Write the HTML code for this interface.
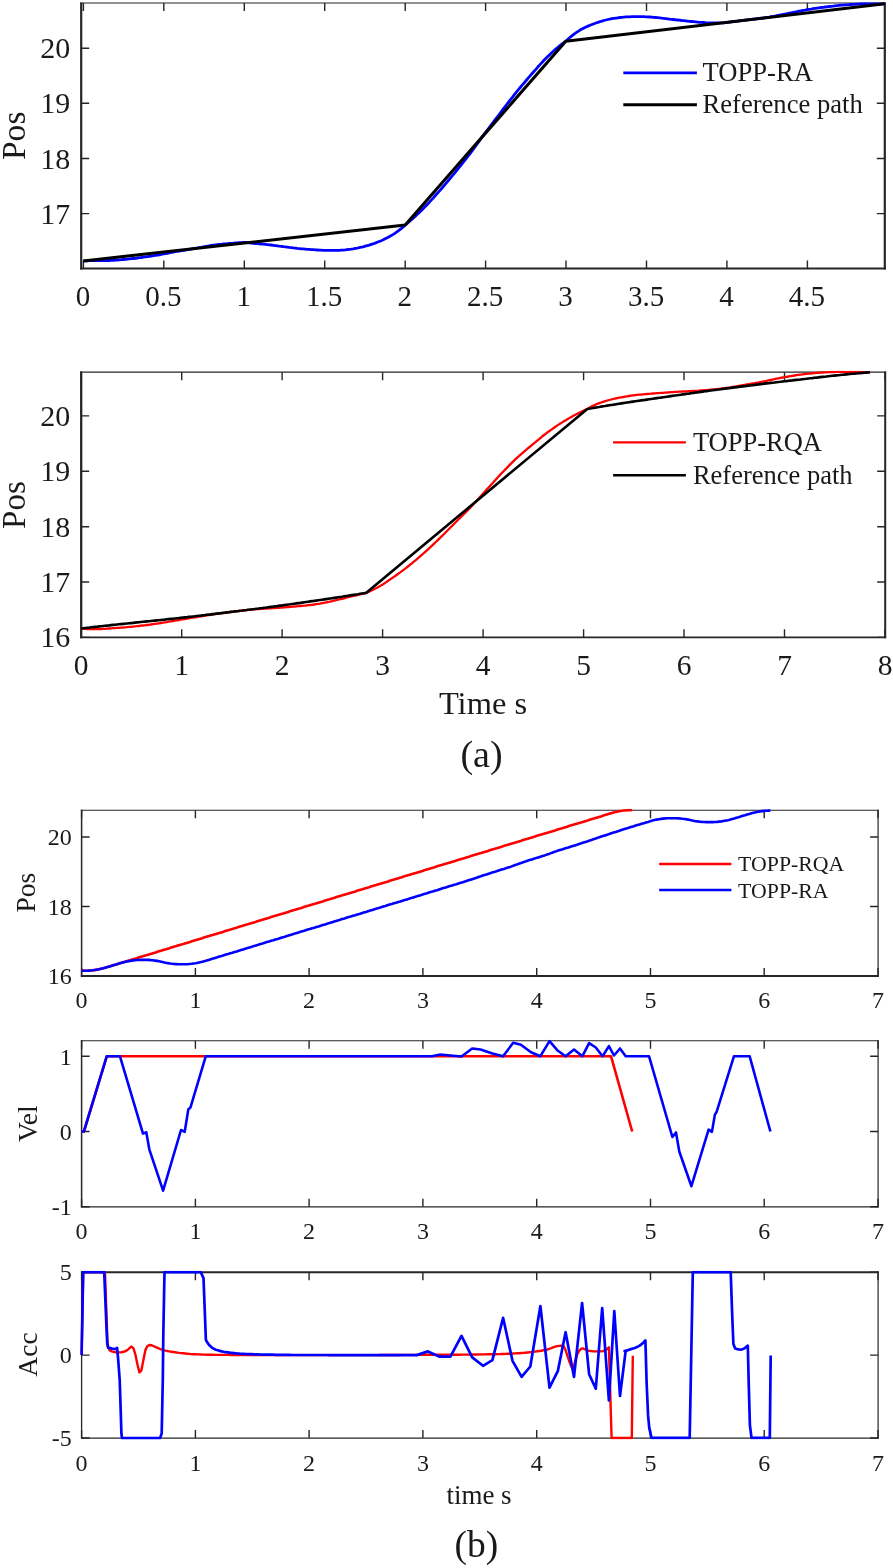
<!DOCTYPE html>
<html><head><meta charset="utf-8"><title>Figure</title>
<style>
html,body{margin:0;padding:0;background:#fff;}
body{width:893px;height:1568px;overflow:hidden;}
svg{display:block;will-change:transform;transform:translateZ(0);}
text{font-family:"Liberation Serif",serif;fill:#1a1a1a;}
</style></head><body>
<svg width="893" height="1568" viewBox="0 0 893 1568">
<rect width="893" height="1568" fill="#ffffff"/>
<clipPath id="c1"><rect x="79.7" y="1.5" width="806.5999999999999" height="268.5"/></clipPath>
<path d="M83.4,268.5 v-8 M83.4,3.0 v8" stroke="#262626" stroke-width="1.4" fill="none"/>
<path d="M163.8,268.5 v-8 M163.8,3.0 v8" stroke="#262626" stroke-width="1.4" fill="none"/>
<path d="M244.3,268.5 v-8 M244.3,3.0 v8" stroke="#262626" stroke-width="1.4" fill="none"/>
<path d="M324.7,268.5 v-8 M324.7,3.0 v8" stroke="#262626" stroke-width="1.4" fill="none"/>
<path d="M405.2,268.5 v-8 M405.2,3.0 v8" stroke="#262626" stroke-width="1.4" fill="none"/>
<path d="M485.6,268.5 v-8 M485.6,3.0 v8" stroke="#262626" stroke-width="1.4" fill="none"/>
<path d="M566.0,268.5 v-8 M566.0,3.0 v8" stroke="#262626" stroke-width="1.4" fill="none"/>
<path d="M646.5,268.5 v-8 M646.5,3.0 v8" stroke="#262626" stroke-width="1.4" fill="none"/>
<path d="M726.9,268.5 v-8 M726.9,3.0 v8" stroke="#262626" stroke-width="1.4" fill="none"/>
<path d="M807.4,268.5 v-8 M807.4,3.0 v8" stroke="#262626" stroke-width="1.4" fill="none"/>
<path d="M81.2,213.6 h8 M884.8,213.6 h-8" stroke="#262626" stroke-width="1.4" fill="none"/>
<path d="M81.2,158.5 h8 M884.8,158.5 h-8" stroke="#262626" stroke-width="1.4" fill="none"/>
<path d="M81.2,103.3 h8 M884.8,103.3 h-8" stroke="#262626" stroke-width="1.4" fill="none"/>
<path d="M81.2,48.2 h8 M884.8,48.2 h-8" stroke="#262626" stroke-width="1.4" fill="none"/>
<line x1="81.2" y1="2.4" x2="81.2" y2="269.55" stroke="#262626" stroke-width="2.2"/>
<line x1="80.10000000000001" y1="268.5" x2="885.9" y2="268.5" stroke="#262626" stroke-width="2.1"/>
<line x1="80.10000000000001" y1="3.0" x2="885.9" y2="3.0" stroke="#262626" stroke-width="1.2"/>
<line x1="884.8" y1="2.4" x2="884.8" y2="269.55" stroke="#262626" stroke-width="2.2"/>
<g clip-path="url(#c1)">
<path d="M83.4,260.9 L85.4,260.8 L87.4,260.8 L89.4,260.7 L91.4,260.7 L93.4,260.6 L95.4,260.6 L97.4,260.6 L99.4,260.6 L101.4,260.6 L103.4,260.5 L105.4,260.5 L107.4,260.5 L109.4,260.5 L111.4,260.4 L113.4,260.3 L115.4,260.2 L117.4,260.0 L119.4,259.9 L121.4,259.7 L123.4,259.5 L125.4,259.3 L127.4,259.1 L129.4,258.9 L131.4,258.7 L133.4,258.5 L135.4,258.3 L137.4,258.0 L139.4,257.7 L141.4,257.5 L143.4,257.2 L145.4,256.9 L147.4,256.6 L149.4,256.3 L151.4,256.0 L153.4,255.7 L155.4,255.4 L157.4,255.1 L159.4,254.8 L161.4,254.4 L163.4,254.0 L165.3,253.6 L167.3,253.3 L169.3,252.9 L171.3,252.5 L173.3,252.1 L175.3,251.7 L177.3,251.4 L179.3,251.1 L181.3,250.7 L183.3,250.4 L185.3,250.1 L187.3,249.7 L189.3,249.4 L191.3,249.0 L193.3,248.7 L195.3,248.4 L197.3,248.0 L199.3,247.6 L201.3,247.3 L203.3,246.9 L205.3,246.5 L207.3,246.2 L209.3,245.8 L211.3,245.5 L213.3,245.2 L215.3,245.0 L217.3,244.7 L219.3,244.5 L221.3,244.3 L223.3,244.0 L225.3,243.8 L227.3,243.7 L229.3,243.5 L231.3,243.3 L233.3,243.2 L235.3,243.0 L237.3,242.9 L239.3,242.7 L241.3,242.6 L243.3,242.5 L245.3,242.5 L247.3,242.7 L249.3,242.9 L251.3,243.2 L253.3,243.4 L255.3,243.5 L257.3,243.7 L259.3,243.8 L261.3,244.0 L263.3,244.2 L265.3,244.4 L267.3,244.6 L269.3,244.8 L271.3,245.0 L273.3,245.3 L275.3,245.6 L277.3,245.9 L279.3,246.2 L281.3,246.4 L283.3,246.7 L285.3,246.9 L287.3,247.1 L289.3,247.4 L291.3,247.6 L293.3,247.9 L295.3,248.1 L297.3,248.4 L299.3,248.6 L301.3,248.8 L303.3,248.9 L305.3,249.1 L307.3,249.3 L309.3,249.4 L311.3,249.6 L313.3,249.7 L315.3,249.9 L317.3,250.0 L319.3,250.1 L321.3,250.2 L323.3,250.3 L325.2,250.3 L327.2,250.4 L329.2,250.4 L331.2,250.4 L333.2,250.4 L335.2,250.4 L337.2,250.3 L339.2,250.3 L341.2,250.2 L343.2,250.1 L345.2,249.9 L347.2,249.6 L349.2,249.3 L351.2,249.1 L353.2,248.8 L355.2,248.4 L357.2,248.1 L359.2,247.7 L361.2,247.2 L363.2,246.8 L365.2,246.2 L367.2,245.7 L369.2,245.1 L371.2,244.4 L373.2,243.8 L375.2,243.1 L377.2,242.3 L379.2,241.5 L381.2,240.7 L383.2,239.8 L385.2,238.8 L387.2,237.8 L389.2,236.7 L391.2,235.6 L393.2,234.4 L395.2,233.1 L397.2,231.7 L399.2,230.2 L401.2,228.6 L403.2,226.9 L405.2,225.1 L407.2,223.4 L409.2,221.7 L411.1,220.0 L413.1,218.2 L415.1,216.4 L417.1,214.5 L419.1,212.7 L421.1,210.8 L423.0,208.8 L425.0,206.8 L427.0,204.7 L429.0,202.6 L431.0,200.4 L433.0,198.3 L434.9,196.0 L436.9,193.8 L438.9,191.6 L440.9,189.3 L442.9,187.0 L444.9,184.7 L446.8,182.4 L448.8,180.0 L450.8,177.6 L452.8,175.2 L454.8,172.8 L456.8,170.3 L458.7,167.9 L460.7,165.5 L462.7,163.0 L464.7,160.5 L466.7,158.0 L468.6,155.4 L470.6,152.8 L472.6,150.1 L474.6,147.4 L476.6,144.7 L478.6,141.9 L480.5,139.2 L482.5,136.4 L484.5,133.8 L486.5,131.1 L488.5,128.5 L490.5,125.9 L492.4,123.3 L494.4,120.7 L496.4,118.1 L498.4,115.5 L500.4,112.9 L502.4,110.2 L504.3,107.6 L506.3,105.0 L508.3,102.4 L510.3,99.8 L512.3,97.3 L514.2,94.8 L516.2,92.3 L518.2,89.9 L520.2,87.5 L522.2,85.2 L524.2,82.8 L526.1,80.5 L528.1,78.1 L530.1,75.8 L532.1,73.5 L534.1,71.3 L536.1,69.1 L538.0,66.8 L540.0,64.6 L542.0,62.5 L544.0,60.3 L546.0,58.3 L548.0,56.3 L549.9,54.4 L551.9,52.5 L553.9,50.7 L555.9,48.9 L557.9,47.3 L559.9,45.6 L561.8,44.1 L563.8,42.6 L566.1,40.9 L568.1,39.0 L570.1,37.3 L572.1,35.7 L574.1,34.1 L576.1,32.7 L578.1,31.4 L580.0,30.1 L582.0,29.0 L584.0,28.0 L586.0,27.0 L588.0,26.1 L590.0,25.3 L592.0,24.5 L594.0,23.7 L596.0,23.0 L598.0,22.3 L600.0,21.7 L602.0,21.1 L603.9,20.5 L605.9,20.0 L607.9,19.5 L609.9,19.1 L611.9,18.7 L613.9,18.4 L615.9,18.1 L617.9,17.8 L619.9,17.5 L621.9,17.3 L623.9,17.1 L625.9,16.9 L627.8,16.8 L629.8,16.8 L631.8,16.7 L633.8,16.6 L635.8,16.6 L637.8,16.6 L639.8,16.6 L641.8,16.7 L643.8,16.7 L645.8,16.8 L647.8,16.9 L649.8,17.0 L651.8,17.2 L653.7,17.4 L655.7,17.5 L657.7,17.7 L659.7,17.9 L661.7,18.2 L663.7,18.4 L665.7,18.6 L667.7,18.8 L669.7,19.1 L671.7,19.3 L673.7,19.5 L675.7,19.8 L677.6,20.0 L679.6,20.2 L681.6,20.5 L683.6,20.7 L685.6,20.9 L687.6,21.1 L689.6,21.3 L691.6,21.5 L693.6,21.7 L695.6,21.9 L697.6,22.1 L699.6,22.3 L701.5,22.4 L703.5,22.5 L705.5,22.7 L707.5,22.8 L709.5,22.8 L711.5,22.9 L713.5,22.9 L715.5,22.9 L717.5,22.9 L719.5,22.9 L721.5,22.9 L723.5,22.8 L725.5,22.7 L727.4,22.4 L729.4,22.1 L731.4,21.8 L733.4,21.5 L735.4,21.3 L737.4,21.1 L739.4,20.8 L741.4,20.6 L743.4,20.4 L745.4,20.1 L747.4,19.9 L749.4,19.7 L751.3,19.5 L753.3,19.2 L755.3,19.0 L757.3,18.7 L759.3,18.5 L761.3,18.2 L763.3,18.0 L765.3,17.7 L767.3,17.4 L769.3,17.1 L771.3,16.7 L773.3,16.4 L775.2,16.0 L777.2,15.6 L779.2,15.2 L781.2,14.8 L783.2,14.4 L785.2,14.0 L787.2,13.6 L789.2,13.2 L791.2,12.8 L793.2,12.4 L795.2,12.0 L797.2,11.6 L799.1,11.2 L801.1,10.8 L803.1,10.4 L805.1,10.1 L807.1,9.7 L809.1,9.4 L811.1,9.1 L813.1,8.7 L815.1,8.4 L817.1,8.1 L819.1,7.8 L821.1,7.5 L823.1,7.3 L825.0,7.0 L827.0,6.8 L829.0,6.5 L831.0,6.3 L833.0,6.1 L835.0,5.8 L837.0,5.6 L839.0,5.4 L841.0,5.2 L843.0,5.1 L845.0,4.9 L847.0,4.8 L848.9,4.7 L850.9,4.5 L852.9,4.4 L854.9,4.3 L856.9,4.2 L858.9,4.1 L860.9,4.0 L862.9,3.9 L864.9,3.9 L866.9,3.9 L868.9,3.9 L870.9,3.8 L872.8,3.8 L874.8,3.8 L876.8,3.8 L878.8,3.8 L880.8,3.8 L882.8,3.8 L884.8,3.8" stroke="#0000ff" stroke-width="2.8" fill="none" stroke-linejoin="round" stroke-linecap="butt"/>
<path d="M83.4,260.9 L405.2,225.1 L565.8,41.2 L884.8,3.8" stroke="#000000" stroke-width="3.0" fill="none" stroke-linejoin="round" stroke-linecap="butt"/>
</g>
<text x="82.9" y="305.5" font-size="29" text-anchor="middle">0</text>
<text x="163.3" y="305.5" font-size="29" text-anchor="middle">0.5</text>
<text x="243.8" y="305.5" font-size="29" text-anchor="middle">1</text>
<text x="324.2" y="305.5" font-size="29" text-anchor="middle">1.5</text>
<text x="404.7" y="305.5" font-size="29" text-anchor="middle">2</text>
<text x="485.1" y="305.5" font-size="29" text-anchor="middle">2.5</text>
<text x="565.5" y="305.5" font-size="29" text-anchor="middle">3</text>
<text x="646.0" y="305.5" font-size="29" text-anchor="middle">3.5</text>
<text x="726.4" y="305.5" font-size="29" text-anchor="middle">4</text>
<text x="806.9" y="305.5" font-size="29" text-anchor="middle">4.5</text>
<text x="70.2" y="223.6" font-size="30" text-anchor="end">17</text>
<text x="70.2" y="168.5" font-size="30" text-anchor="end">18</text>
<text x="70.2" y="113.3" font-size="30" text-anchor="end">19</text>
<text x="70.2" y="58.2" font-size="30" text-anchor="end">20</text>
<text x="25.4" y="135.8" font-size="33.6" text-anchor="middle" transform="rotate(-90 25.4 135.8)">Pos</text>
<path d="M623.3,72.9 L696.9,72.9" stroke="#0000ff" stroke-width="2.9" fill="none" stroke-linejoin="round" stroke-linecap="butt"/>
<path d="M623.3,104.7 L696.9,104.7" stroke="#000000" stroke-width="3.1" fill="none" stroke-linejoin="round" stroke-linecap="butt"/>
<text x="702.5" y="81.3" font-size="26.6" text-anchor="start">TOPP-RA</text>
<text x="702.5" y="113.3" font-size="26.6" text-anchor="start">Reference path</text>
<clipPath id="c2"><rect x="79.7" y="370.7" width="807.0" height="268.09999999999997"/></clipPath>
<path d="M81.2,637.3 v-8 M81.2,372.2 v8" stroke="#262626" stroke-width="1.4" fill="none"/>
<path d="M181.7,637.3 v-8 M181.7,372.2 v8" stroke="#262626" stroke-width="1.4" fill="none"/>
<path d="M282.1,637.3 v-8 M282.1,372.2 v8" stroke="#262626" stroke-width="1.4" fill="none"/>
<path d="M382.6,637.3 v-8 M382.6,372.2 v8" stroke="#262626" stroke-width="1.4" fill="none"/>
<path d="M483.1,637.3 v-8 M483.1,372.2 v8" stroke="#262626" stroke-width="1.4" fill="none"/>
<path d="M583.6,637.3 v-8 M583.6,372.2 v8" stroke="#262626" stroke-width="1.4" fill="none"/>
<path d="M684.0,637.3 v-8 M684.0,372.2 v8" stroke="#262626" stroke-width="1.4" fill="none"/>
<path d="M784.5,637.3 v-8 M784.5,372.2 v8" stroke="#262626" stroke-width="1.4" fill="none"/>
<path d="M885.0,637.3 v-8 M885.0,372.2 v8" stroke="#262626" stroke-width="1.4" fill="none"/>
<path d="M81.2,637.4 h8 M885.2,637.4 h-8" stroke="#262626" stroke-width="1.4" fill="none"/>
<path d="M81.2,582.0 h8 M885.2,582.0 h-8" stroke="#262626" stroke-width="1.4" fill="none"/>
<path d="M81.2,526.7 h8 M885.2,526.7 h-8" stroke="#262626" stroke-width="1.4" fill="none"/>
<path d="M81.2,471.3 h8 M885.2,471.3 h-8" stroke="#262626" stroke-width="1.4" fill="none"/>
<path d="M81.2,415.9 h8 M885.2,415.9 h-8" stroke="#262626" stroke-width="1.4" fill="none"/>
<line x1="81.2" y1="371.59999999999997" x2="81.2" y2="638.15" stroke="#262626" stroke-width="2.3"/>
<line x1="80.05" y1="637.3" x2="886.2" y2="637.3" stroke="#262626" stroke-width="1.7"/>
<line x1="80.05" y1="372.2" x2="886.2" y2="372.2" stroke="#262626" stroke-width="1.2"/>
<line x1="885.2" y1="371.59999999999997" x2="885.2" y2="638.15" stroke="#262626" stroke-width="2.0"/>
<g clip-path="url(#c2)">
<path d="M81.2,628.5 L83.2,628.7 L85.2,628.9 L87.2,629.0 L89.2,629.0 L91.2,629.1 L93.1,629.1 L95.1,629.1 L97.1,629.1 L99.1,629.1 L101.1,629.0 L103.1,628.9 L105.1,628.8 L107.1,628.6 L109.1,628.5 L111.1,628.4 L113.1,628.2 L115.1,628.1 L117.0,627.9 L119.0,627.8 L121.0,627.6 L123.0,627.5 L125.0,627.3 L127.0,627.1 L129.0,626.9 L131.0,626.8 L133.0,626.6 L135.0,626.4 L137.0,626.2 L139.0,626.0 L140.9,625.7 L142.9,625.5 L144.9,625.3 L146.9,625.0 L148.9,624.8 L150.9,624.5 L152.9,624.2 L154.9,623.9 L156.9,623.6 L158.9,623.3 L160.9,623.0 L162.9,622.7 L164.8,622.4 L166.8,622.1 L168.8,621.7 L170.8,621.4 L172.8,621.0 L174.8,620.7 L176.8,620.3 L178.8,620.0 L180.8,619.6 L182.8,619.3 L184.8,619.0 L186.8,618.6 L188.7,618.3 L190.7,617.9 L192.7,617.6 L194.7,617.3 L196.7,617.0 L198.7,616.6 L200.7,616.3 L202.7,616.0 L204.7,615.7 L206.7,615.4 L208.7,615.1 L210.7,614.8 L212.6,614.5 L214.6,614.2 L216.6,613.9 L218.6,613.6 L220.6,613.3 L222.6,613.1 L224.6,612.8 L226.6,612.5 L228.6,612.3 L230.6,612.0 L232.6,611.8 L234.6,611.5 L236.5,611.3 L238.5,611.0 L240.5,610.8 L242.5,610.5 L244.5,610.3 L246.5,610.1 L248.5,609.9 L250.5,609.7 L252.5,609.5 L254.5,609.4 L256.5,609.2 L258.5,609.1 L260.4,608.9 L262.4,608.8 L264.4,608.7 L266.4,608.5 L268.4,608.4 L270.4,608.3 L272.4,608.1 L274.4,608.0 L276.4,607.9 L278.4,607.8 L280.4,607.6 L282.4,607.5 L284.3,607.3 L286.3,607.2 L288.3,607.0 L290.3,606.9 L292.3,606.7 L294.3,606.6 L296.3,606.4 L298.3,606.2 L300.3,606.0 L302.3,605.9 L304.3,605.7 L306.3,605.5 L308.2,605.2 L310.2,605.0 L312.2,604.8 L314.2,604.5 L316.2,604.2 L318.2,603.9 L320.2,603.6 L322.2,603.2 L324.2,602.8 L326.2,602.4 L328.2,602.0 L330.2,601.5 L332.1,601.1 L334.1,600.6 L336.1,600.2 L338.1,599.7 L340.1,599.2 L342.1,598.8 L344.1,598.3 L346.1,597.7 L348.1,597.2 L350.1,596.7 L352.1,596.2 L354.1,595.8 L356.0,595.3 L358.0,594.8 L360.0,594.4 L362.0,593.9 L364.0,593.4 L366.0,592.9 L368.0,592.1 L370.0,591.2 L372.0,590.3 L374.0,589.3 L376.0,588.3 L378.0,587.2 L380.0,586.1 L381.9,584.9 L383.9,583.7 L385.9,582.4 L387.9,581.0 L389.9,579.6 L391.9,578.3 L393.9,576.9 L395.9,575.5 L397.9,574.0 L399.9,572.6 L401.9,571.1 L403.9,569.6 L405.9,568.1 L407.9,566.5 L409.9,564.9 L411.9,563.3 L413.8,561.7 L415.8,560.1 L417.8,558.4 L419.8,556.7 L421.8,554.9 L423.8,553.2 L425.8,551.4 L427.8,549.6 L429.8,547.7 L431.8,545.8 L433.8,543.9 L435.8,542.0 L437.8,540.1 L439.8,538.1 L441.8,536.2 L443.8,534.2 L445.7,532.2 L447.7,530.2 L449.7,528.2 L451.7,526.2 L453.7,524.2 L455.7,522.2 L457.7,520.2 L459.7,518.2 L461.7,516.2 L463.7,514.2 L465.7,512.2 L467.7,510.1 L469.7,508.1 L471.7,506.1 L473.7,504.0 L475.7,501.9 L477.6,499.8 L479.6,497.6 L481.6,495.3 L483.6,493.1 L485.6,490.8 L487.6,488.6 L489.6,486.4 L491.6,484.2 L493.6,481.9 L495.6,479.7 L497.6,477.6 L499.6,475.4 L501.6,473.3 L503.6,471.2 L505.6,469.1 L507.6,467.1 L509.5,465.1 L511.5,463.1 L513.5,461.1 L515.5,459.2 L517.5,457.3 L519.5,455.5 L521.5,453.8 L523.5,452.1 L525.5,450.4 L527.5,448.7 L529.5,447.0 L531.5,445.4 L533.5,443.7 L535.5,442.1 L537.5,440.4 L539.5,438.8 L541.4,437.1 L543.4,435.5 L545.4,434.0 L547.4,432.4 L549.4,431.0 L551.4,429.6 L553.4,428.2 L555.4,426.8 L557.4,425.4 L559.4,424.1 L561.4,422.9 L563.4,421.6 L565.4,420.4 L567.4,419.2 L569.4,418.1 L571.4,416.9 L573.3,415.8 L575.3,414.8 L577.3,413.7 L579.3,412.7 L581.3,411.7 L583.3,410.8 L585.3,409.9 L587.3,409.0 L589.3,407.7 L591.3,406.6 L593.3,405.6 L595.3,404.7 L597.3,403.9 L599.2,403.2 L601.2,402.5 L603.2,401.8 L605.2,401.1 L607.2,400.5 L609.2,400.0 L611.2,399.5 L613.2,399.0 L615.2,398.5 L617.2,398.1 L619.2,397.7 L621.2,397.3 L623.1,397.0 L625.1,396.6 L627.1,396.3 L629.1,396.0 L631.1,395.7 L633.1,395.4 L635.1,395.1 L637.1,394.9 L639.1,394.7 L641.1,394.6 L643.1,394.4 L645.1,394.2 L647.0,394.0 L649.0,393.8 L651.0,393.7 L653.0,393.5 L655.0,393.4 L657.0,393.2 L659.0,393.1 L661.0,392.9 L663.0,392.8 L665.0,392.6 L667.0,392.5 L669.0,392.3 L670.9,392.2 L672.9,392.1 L674.9,391.9 L676.9,391.8 L678.9,391.7 L680.9,391.6 L682.9,391.5 L684.9,391.4 L686.9,391.3 L688.9,391.2 L690.9,391.1 L692.9,391.0 L694.8,390.9 L696.8,390.8 L698.8,390.7 L700.8,390.5 L702.8,390.4 L704.8,390.2 L706.8,390.1 L708.8,389.9 L710.8,389.7 L712.8,389.5 L714.8,389.3 L716.8,389.1 L718.7,388.9 L720.7,388.7 L722.7,388.4 L724.7,388.2 L726.7,387.9 L728.7,387.6 L730.7,387.3 L732.7,387.0 L734.7,386.7 L736.7,386.4 L738.7,386.0 L740.6,385.6 L742.6,385.2 L744.6,384.9 L746.6,384.5 L748.6,384.2 L750.6,383.8 L752.6,383.5 L754.6,383.2 L756.6,382.8 L758.6,382.5 L760.6,382.1 L762.6,381.7 L764.5,381.3 L766.5,380.9 L768.5,380.4 L770.5,380.0 L772.5,379.6 L774.5,379.1 L776.5,378.7 L778.5,378.3 L780.5,377.9 L782.5,377.5 L784.5,377.2 L786.5,376.8 L788.4,376.5 L790.4,376.1 L792.4,375.8 L794.4,375.5 L796.4,375.2 L798.4,374.9 L800.4,374.6 L802.4,374.4 L804.4,374.1 L806.4,373.9 L808.4,373.7 L810.4,373.5 L812.3,373.3 L814.3,373.1 L816.3,372.9 L818.3,372.8 L820.3,372.6 L822.3,372.5 L824.3,372.4 L826.3,372.3 L828.3,372.2 L830.3,372.1 L832.3,372.1 L834.3,372.0 L836.2,371.9 L838.2,371.9 L840.2,371.9 L842.2,371.9 L844.2,371.9 L846.2,371.9 L848.2,371.9 L850.2,371.9 L852.2,371.9 L854.2,371.9 L856.2,371.9 L858.2,371.9 L860.1,372.0 L862.1,372.0 L864.1,372.1 L866.1,372.1 L868.1,372.2 L870.1,372.3" stroke="#ff0000" stroke-width="2.3" fill="none" stroke-linejoin="round" stroke-linecap="butt"/>
<path d="M81.2,628.5 L83.2,628.3 L85.2,628.0 L87.2,627.8 L89.2,627.6 L91.2,627.3 L93.1,627.1 L95.1,626.9 L97.1,626.7 L99.1,626.4 L101.1,626.2 L103.1,626.0 L105.1,625.8 L107.1,625.6 L109.1,625.4 L111.1,625.1 L113.1,624.9 L115.1,624.7 L117.0,624.5 L119.0,624.3 L121.0,624.1 L123.0,623.9 L125.0,623.7 L127.0,623.5 L129.0,623.3 L131.0,623.1 L133.0,622.9 L135.0,622.6 L137.0,622.4 L139.0,622.2 L140.9,622.0 L142.9,621.8 L144.9,621.6 L146.9,621.4 L148.9,621.2 L150.9,621.0 L152.9,620.8 L154.9,620.6 L156.9,620.4 L158.9,620.2 L160.9,620.0 L162.9,619.8 L164.8,619.6 L166.8,619.3 L168.8,619.1 L170.8,618.9 L172.8,618.7 L174.8,618.5 L176.8,618.3 L178.8,618.1 L180.8,617.8 L182.8,617.6 L184.8,617.4 L186.8,617.2 L188.7,616.9 L190.7,616.7 L192.7,616.5 L194.7,616.3 L196.7,616.0 L198.7,615.8 L200.7,615.6 L202.7,615.3 L204.7,615.1 L206.7,614.8 L208.7,614.6 L210.7,614.4 L212.6,614.1 L214.6,613.9 L216.6,613.6 L218.6,613.4 L220.6,613.2 L222.6,612.9 L224.6,612.7 L226.6,612.4 L228.6,612.2 L230.6,611.9 L232.6,611.7 L234.6,611.4 L236.5,611.2 L238.5,611.0 L240.5,610.7 L242.5,610.5 L244.5,610.2 L246.5,610.0 L248.5,609.7 L250.5,609.5 L252.5,609.2 L254.5,609.0 L256.5,608.7 L258.5,608.5 L260.4,608.2 L262.4,608.0 L264.4,607.7 L266.4,607.5 L268.4,607.2 L270.4,606.9 L272.4,606.7 L274.4,606.4 L276.4,606.2 L278.4,605.9 L280.4,605.6 L282.4,605.4 L284.3,605.1 L286.3,604.8 L288.3,604.5 L290.3,604.3 L292.3,604.0 L294.3,603.7 L296.3,603.4 L298.3,603.1 L300.3,602.9 L302.3,602.6 L304.3,602.3 L306.3,602.0 L308.2,601.7 L310.2,601.4 L312.2,601.1 L314.2,600.9 L316.2,600.6 L318.2,600.3 L320.2,600.0 L322.2,599.7 L324.2,599.4 L326.2,599.1 L328.2,598.8 L330.2,598.5 L332.1,598.2 L334.1,597.9 L336.1,597.6 L338.1,597.3 L340.1,597.0 L342.1,596.7 L344.1,596.3 L346.1,596.0 L348.1,595.7 L350.1,595.4 L352.1,595.1 L354.1,594.8 L356.0,594.5 L358.0,594.2 L360.0,593.8 L362.0,593.5 L364.0,593.2 L366.0,592.9 L587.3,409.0 L589.3,408.7 L591.3,408.3 L593.3,408.0 L595.3,407.6 L597.3,407.3 L599.2,407.0 L601.2,406.6 L603.2,406.3 L605.2,406.0 L607.2,405.6 L609.2,405.3 L611.2,405.0 L613.2,404.7 L615.2,404.4 L617.2,404.0 L619.2,403.7 L621.2,403.4 L623.1,403.1 L625.1,402.8 L627.1,402.5 L629.1,402.2 L631.1,401.9 L633.1,401.6 L635.1,401.3 L637.1,401.0 L639.1,400.7 L641.1,400.4 L643.1,400.1 L645.1,399.9 L647.0,399.6 L649.0,399.3 L651.0,399.0 L653.0,398.7 L655.0,398.4 L657.0,398.1 L659.0,397.8 L661.0,397.6 L663.0,397.3 L665.0,397.0 L667.0,396.7 L669.0,396.4 L670.9,396.1 L672.9,395.8 L674.9,395.5 L676.9,395.3 L678.9,395.0 L680.9,394.7 L682.9,394.4 L684.9,394.1 L686.9,393.8 L688.9,393.6 L690.9,393.3 L692.9,393.0 L694.8,392.7 L696.8,392.4 L698.8,392.2 L700.8,391.9 L702.8,391.6 L704.8,391.3 L706.8,391.1 L708.8,390.8 L710.8,390.5 L712.8,390.3 L714.8,390.0 L716.8,389.7 L718.7,389.5 L720.7,389.2 L722.7,388.9 L724.7,388.7 L726.7,388.4 L728.7,388.2 L730.7,387.9 L732.7,387.6 L734.7,387.4 L736.7,387.1 L738.7,386.9 L740.6,386.6 L742.6,386.4 L744.6,386.1 L746.6,385.9 L748.6,385.6 L750.6,385.4 L752.6,385.1 L754.6,384.9 L756.6,384.6 L758.6,384.4 L760.6,384.1 L762.6,383.9 L764.5,383.6 L766.5,383.4 L768.5,383.2 L770.5,382.9 L772.5,382.7 L774.5,382.5 L776.5,382.2 L778.5,382.0 L780.5,381.8 L782.5,381.5 L784.5,381.3 L786.5,381.1 L788.4,380.8 L790.4,380.6 L792.4,380.4 L794.4,380.1 L796.4,379.9 L798.4,379.7 L800.4,379.5 L802.4,379.2 L804.4,379.0 L806.4,378.8 L808.4,378.5 L810.4,378.3 L812.3,378.1 L814.3,377.8 L816.3,377.6 L818.3,377.4 L820.3,377.1 L822.3,376.9 L824.3,376.7 L826.3,376.5 L828.3,376.2 L830.3,376.0 L832.3,375.8 L834.3,375.6 L836.2,375.4 L838.2,375.2 L840.2,375.0 L842.2,374.8 L844.2,374.6 L846.2,374.4 L848.2,374.2 L850.2,374.0 L852.2,373.8 L854.2,373.7 L856.2,373.5 L858.2,373.3 L860.1,373.1 L862.1,373.0 L864.1,372.8 L866.1,372.6 L868.1,372.5 L870.1,372.3" stroke="#000000" stroke-width="2.6" fill="none" stroke-linejoin="round" stroke-linecap="butt"/>
</g>
<text x="81.2" y="675.3" font-size="29.5" text-anchor="middle">0</text>
<text x="181.7" y="675.3" font-size="29.5" text-anchor="middle">1</text>
<text x="282.1" y="675.3" font-size="29.5" text-anchor="middle">2</text>
<text x="382.6" y="675.3" font-size="29.5" text-anchor="middle">3</text>
<text x="483.1" y="675.3" font-size="29.5" text-anchor="middle">4</text>
<text x="583.6" y="675.3" font-size="29.5" text-anchor="middle">5</text>
<text x="684.0" y="675.3" font-size="29.5" text-anchor="middle">6</text>
<text x="784.5" y="675.3" font-size="29.5" text-anchor="middle">7</text>
<text x="885.0" y="675.3" font-size="29.5" text-anchor="middle">8</text>
<text x="70.2" y="647.4" font-size="30" text-anchor="end">16</text>
<text x="70.2" y="592.0" font-size="30" text-anchor="end">17</text>
<text x="70.2" y="536.7" font-size="30" text-anchor="end">18</text>
<text x="70.2" y="481.3" font-size="30" text-anchor="end">19</text>
<text x="70.2" y="425.9" font-size="30" text-anchor="end">20</text>
<text x="25.2" y="505.1" font-size="33" text-anchor="middle" transform="rotate(-90 25.2 505.1)">Pos</text>
<path d="M613.1,442.3 L685.9,442.3" stroke="#ff0000" stroke-width="2.3" fill="none" stroke-linejoin="round" stroke-linecap="butt"/>
<path d="M613.1,475.2 L685.9,475.2" stroke="#000000" stroke-width="2.6" fill="none" stroke-linejoin="round" stroke-linecap="butt"/>
<text x="692.9" y="451.4" font-size="26.5" text-anchor="start">TOPP-RQA</text>
<text x="692.9" y="483.7" font-size="26.5" text-anchor="start">Reference path</text>
<text x="483.0" y="714.4" font-size="32.5" text-anchor="middle">Time s</text>
<text x="481.5" y="766.7" font-size="38" text-anchor="middle">(a)</text>
<clipPath id="c3"><rect x="80.1" y="808.7" width="799.5" height="168.79999999999995"/></clipPath>
<path d="M81.6,976.0 v-8 M81.6,810.2 v8" stroke="#262626" stroke-width="1.4" fill="none"/>
<path d="M195.4,976.0 v-8 M195.4,810.2 v8" stroke="#262626" stroke-width="1.4" fill="none"/>
<path d="M309.1,976.0 v-8 M309.1,810.2 v8" stroke="#262626" stroke-width="1.4" fill="none"/>
<path d="M422.9,976.0 v-8 M422.9,810.2 v8" stroke="#262626" stroke-width="1.4" fill="none"/>
<path d="M536.7,976.0 v-8 M536.7,810.2 v8" stroke="#262626" stroke-width="1.4" fill="none"/>
<path d="M650.5,976.0 v-8 M650.5,810.2 v8" stroke="#262626" stroke-width="1.4" fill="none"/>
<path d="M764.2,976.0 v-8 M764.2,810.2 v8" stroke="#262626" stroke-width="1.4" fill="none"/>
<path d="M878.0,976.0 v-8 M878.0,810.2 v8" stroke="#262626" stroke-width="1.4" fill="none"/>
<path d="M81.6,976.0 h8 M878.1,976.0 h-8" stroke="#262626" stroke-width="1.4" fill="none"/>
<path d="M81.6,906.5 h8 M878.1,906.5 h-8" stroke="#262626" stroke-width="1.4" fill="none"/>
<path d="M81.6,837.0 h8 M878.1,837.0 h-8" stroke="#262626" stroke-width="1.4" fill="none"/>
<line x1="81.6" y1="809.6500000000001" x2="81.6" y2="977.05" stroke="#262626" stroke-width="1.5"/>
<line x1="80.85" y1="976.0" x2="878.7" y2="976.0" stroke="#262626" stroke-width="2.1"/>
<line x1="80.85" y1="810.2" x2="878.7" y2="810.2" stroke="#262626" stroke-width="1.1"/>
<line x1="878.1" y1="809.6500000000001" x2="878.1" y2="977.05" stroke="#262626" stroke-width="1.2"/>
<g clip-path="url(#c3)">
<path d="M81.6,970.8 L83.3,970.8 L85.0,970.8 L86.8,970.7 L88.5,970.6 L90.2,970.5 L91.9,970.4 L93.7,970.2 L95.4,969.9 L97.1,969.6 L98.8,969.3 L100.5,968.9 L102.3,968.5 L104.0,968.1 L105.7,967.6 L107.4,967.1 L109.1,966.6 L110.9,966.0 L112.6,965.5 L114.3,965.0 L116.0,964.5 L117.8,963.9 L119.5,963.4 L121.2,962.9 L122.9,962.4 L124.6,961.8 L126.4,961.3 L128.1,960.8 L129.8,960.3 L131.5,959.7 L133.3,959.2 L135.0,958.7 L136.7,958.2 L138.4,957.6 L140.1,957.1 L141.9,956.6 L143.6,956.1 L145.3,955.5 L147.0,955.0 L148.8,954.5 L150.5,953.9 L152.2,953.4 L153.9,952.9 L155.6,952.4 L157.4,951.8 L159.1,951.3 L160.8,950.8 L162.5,950.3 L164.2,949.7 L166.0,949.2 L167.7,948.7 L169.4,948.2 L171.1,947.6 L172.9,947.1 L174.6,946.6 L176.3,946.1 L178.0,945.5 L179.7,945.0 L181.5,944.5 L183.2,944.0 L184.9,943.4 L186.6,942.9 L188.4,942.4 L190.1,941.9 L191.8,941.3 L193.5,940.8 L195.2,940.3 L197.0,939.7 L198.7,939.2 L200.4,938.7 L202.1,938.2 L203.9,937.6 L205.6,937.1 L207.3,936.6 L209.0,936.1 L210.7,935.5 L212.5,935.0 L214.2,934.5 L215.9,934.0 L217.6,933.4 L219.3,932.9 L221.1,932.4 L222.8,931.9 L224.5,931.3 L226.2,930.8 L228.0,930.3 L229.7,929.8 L231.4,929.2 L233.1,928.7 L234.8,928.2 L236.6,927.7 L238.3,927.1 L240.0,926.6 L241.7,926.1 L243.5,925.5 L245.2,925.0 L246.9,924.5 L248.6,924.0 L250.3,923.4 L252.1,922.9 L253.8,922.4 L255.5,921.9 L257.2,921.3 L259.0,920.8 L260.7,920.3 L262.4,919.8 L264.1,919.2 L265.8,918.7 L267.6,918.2 L269.3,917.7 L271.0,917.1 L272.7,916.6 L274.4,916.1 L276.2,915.6 L277.9,915.0 L279.6,914.5 L281.3,914.0 L283.1,913.5 L284.8,912.9 L286.5,912.4 L288.2,911.9 L289.9,911.3 L291.7,910.8 L293.4,910.3 L295.1,909.8 L296.8,909.2 L298.6,908.7 L300.3,908.2 L302.0,907.7 L303.7,907.1 L305.4,906.6 L307.2,906.1 L308.9,905.6 L310.6,905.0 L312.3,904.5 L314.0,904.0 L315.8,903.5 L317.5,902.9 L319.2,902.4 L320.9,901.9 L322.7,901.4 L324.4,900.8 L326.1,900.3 L327.8,899.8 L329.5,899.3 L331.3,898.7 L333.0,898.2 L334.7,897.7 L336.4,897.1 L338.2,896.6 L339.9,896.1 L341.6,895.6 L343.3,895.0 L345.0,894.5 L346.8,894.0 L348.5,893.5 L350.2,892.9 L351.9,892.4 L353.7,891.9 L355.4,891.4 L357.1,890.8 L358.8,890.3 L360.5,889.8 L362.3,889.3 L364.0,888.7 L365.7,888.2 L367.4,887.7 L369.1,887.2 L370.9,886.6 L372.6,886.1 L374.3,885.6 L376.0,885.1 L377.8,884.5 L379.5,884.0 L381.2,883.5 L382.9,882.9 L384.6,882.4 L386.4,881.9 L388.1,881.4 L389.8,880.8 L391.5,880.3 L393.3,879.8 L395.0,879.3 L396.7,878.7 L398.4,878.2 L400.1,877.7 L401.9,877.2 L403.6,876.6 L405.3,876.1 L407.0,875.6 L408.8,875.1 L410.5,874.5 L412.2,874.0 L413.9,873.5 L415.6,873.0 L417.4,872.4 L419.1,871.9 L420.8,871.4 L422.5,870.9 L424.2,870.3 L426.0,869.8 L427.7,869.3 L429.4,868.7 L431.1,868.2 L432.9,867.7 L434.6,867.2 L436.3,866.6 L438.0,866.1 L439.7,865.6 L441.5,865.1 L443.2,864.5 L444.9,864.0 L446.6,863.5 L448.4,863.0 L450.1,862.4 L451.8,861.9 L453.5,861.4 L455.2,860.9 L457.0,860.3 L458.7,859.8 L460.4,859.3 L462.1,858.8 L463.9,858.2 L465.6,857.7 L467.3,857.2 L469.0,856.7 L470.7,856.1 L472.5,855.6 L474.2,855.1 L475.9,854.5 L477.6,854.0 L479.3,853.5 L481.1,853.0 L482.8,852.4 L484.5,851.9 L486.2,851.4 L488.0,850.9 L489.7,850.3 L491.4,849.8 L493.1,849.3 L494.8,848.8 L496.6,848.2 L498.3,847.7 L500.0,847.2 L501.7,846.7 L503.5,846.1 L505.2,845.6 L506.9,845.1 L508.6,844.6 L510.3,844.0 L512.1,843.5 L513.8,843.0 L515.5,842.5 L517.2,841.9 L518.9,841.4 L520.7,840.9 L522.4,840.3 L524.1,839.8 L525.8,839.3 L527.6,838.8 L529.3,838.2 L531.0,837.7 L532.7,837.2 L534.4,836.7 L536.2,836.1 L537.9,835.6 L539.6,835.1 L541.3,834.6 L543.1,834.0 L544.8,833.5 L546.5,833.0 L548.2,832.5 L549.9,831.9 L551.7,831.4 L553.4,830.9 L555.1,830.4 L556.8,829.8 L558.6,829.3 L560.3,828.8 L562.0,828.3 L563.7,827.7 L565.4,827.2 L567.2,826.7 L568.9,826.1 L570.6,825.6 L572.3,825.1 L574.0,824.6 L575.8,824.0 L577.5,823.5 L579.2,823.0 L580.9,822.5 L582.7,821.9 L584.4,821.4 L586.1,820.9 L587.8,820.4 L589.5,819.8 L591.3,819.3 L593.0,818.8 L594.7,818.3 L596.4,817.7 L598.2,817.2 L599.9,816.7 L601.6,816.2 L603.3,815.6 L605.0,815.1 L606.8,814.6 L608.5,814.1 L610.2,813.5 L611.9,813.0 L613.7,812.5 L615.4,812.1 L617.1,811.7 L618.8,811.3 L620.5,811.0 L622.3,810.8 L624.0,810.5 L625.7,810.4 L627.4,810.2 L629.1,810.1 L630.9,810.1 L632.2,810.0" stroke="#ff0000" stroke-width="2.6" fill="none" stroke-linejoin="round" stroke-linecap="butt"/>
<path d="M81.6,970.8 L83.8,970.8 L85.9,970.8 L88.1,970.7 L90.2,970.5 L92.4,970.3 L94.5,970.0 L96.7,969.7 L98.8,969.3 L101.0,968.8 L103.1,968.3 L105.3,967.7 L107.4,967.1 L109.6,966.4 L111.8,965.8 L113.9,965.1 L116.1,964.5 L118.2,963.8 L120.4,963.1 L122.5,962.5 L124.7,962.0 L126.8,961.5 L129.0,961.1 L131.1,960.7 L133.3,960.4 L135.4,960.2 L137.6,960.0 L139.8,959.9 L141.9,959.9 L144.1,959.9 L146.2,959.9 L148.4,959.9 L150.5,960.1 L152.7,960.3 L154.8,960.6 L157.0,960.9 L159.1,961.3 L161.3,961.7 L163.4,962.2 L165.6,962.7 L167.8,963.1 L169.9,963.5 L172.1,963.7 L174.2,964.0 L176.4,964.1 L178.5,964.2 L180.7,964.2 L182.8,964.2 L185.0,964.2 L187.1,964.2 L189.3,964.0 L191.4,963.8 L193.6,963.5 L195.8,963.2 L197.9,962.8 L200.1,962.3 L202.2,961.8 L204.4,961.2 L206.5,960.6 L208.7,959.9 L210.8,959.2 L213.0,958.6 L215.1,957.9 L217.3,957.3 L219.4,956.6 L221.6,956.0 L223.8,955.3 L225.9,954.6 L228.1,954.0 L230.2,953.3 L232.4,952.7 L234.5,952.0 L236.7,951.4 L238.8,950.7 L241.0,950.0 L243.1,949.4 L245.3,948.7 L247.4,948.1 L249.6,947.4 L251.8,946.7 L253.9,946.1 L256.1,945.4 L258.2,944.8 L260.4,944.1 L262.5,943.5 L264.7,942.8 L266.8,942.1 L269.0,941.5 L271.1,940.8 L273.3,940.2 L275.4,939.5 L277.6,938.9 L279.8,938.2 L281.9,937.5 L284.1,936.9 L286.2,936.2 L288.4,935.6 L290.5,934.9 L292.7,934.2 L294.8,933.6 L297.0,932.9 L299.1,932.3 L301.3,931.6 L303.4,931.0 L305.6,930.3 L307.8,929.6 L309.9,929.0 L312.1,928.3 L314.2,927.7 L316.4,927.0 L318.5,926.4 L320.7,925.7 L322.8,925.0 L325.0,924.4 L327.1,923.7 L329.3,923.1 L331.4,922.4 L333.6,921.7 L335.8,921.1 L337.9,920.4 L340.1,919.8 L342.2,919.1 L344.4,918.5 L346.5,917.8 L348.7,917.1 L350.8,916.5 L353.0,915.8 L355.1,915.2 L357.3,914.5 L359.4,913.9 L361.6,913.2 L363.8,912.5 L365.9,911.9 L368.1,911.2 L370.2,910.6 L372.4,909.9 L374.5,909.2 L376.7,908.6 L378.8,907.9 L381.0,907.3 L383.1,906.6 L385.3,906.0 L387.4,905.3 L389.6,904.6 L391.8,904.0 L393.9,903.3 L396.1,902.7 L398.2,902.0 L400.4,901.4 L402.5,900.7 L404.7,900.0 L406.8,899.4 L409.0,898.7 L411.1,898.1 L413.3,897.4 L415.4,896.7 L417.6,896.1 L419.8,895.4 L421.9,894.8 L424.1,894.1 L426.2,893.5 L428.4,892.8 L430.5,892.1 L432.7,891.5 L434.8,890.8 L437.0,890.2 L439.1,889.5 L441.3,888.8 L443.4,888.1 L445.6,887.5 L447.8,886.8 L449.9,886.1 L452.1,885.5 L454.2,884.8 L456.4,884.2 L458.5,883.5 L460.7,882.8 L462.8,882.2 L465.0,881.5 L467.1,880.8 L469.3,880.1 L471.4,879.4 L473.6,878.7 L475.8,878.0 L477.9,877.2 L480.1,876.5 L482.2,875.8 L484.4,875.1 L486.5,874.4 L488.7,873.7 L490.8,873.0 L493.0,872.3 L495.1,871.7 L497.3,871.0 L499.4,870.3 L501.6,869.6 L503.8,869.0 L505.9,868.3 L508.1,867.6 L510.2,866.9 L512.4,866.1 L514.5,865.3 L516.7,864.6 L518.8,863.8 L521.0,863.1 L523.1,862.3 L525.3,861.6 L527.4,860.8 L529.6,860.1 L531.8,859.4 L533.9,858.7 L536.1,858.1 L538.2,857.4 L540.4,856.7 L542.5,856.1 L544.7,855.4 L546.8,854.6 L549.0,853.9 L551.1,853.1 L553.3,852.3 L555.4,851.6 L557.6,850.8 L559.8,850.1 L561.9,849.5 L564.1,848.8 L566.2,848.1 L568.4,847.5 L570.5,846.8 L572.7,846.1 L574.8,845.4 L577.0,844.7 L579.1,844.0 L581.3,843.3 L583.4,842.6 L585.6,841.9 L587.8,841.2 L589.9,840.4 L592.1,839.7 L594.2,838.9 L596.4,838.2 L598.5,837.5 L600.7,836.8 L602.8,836.1 L605.0,835.4 L607.1,834.7 L609.3,834.0 L611.4,833.3 L613.6,832.6 L615.8,831.9 L617.9,831.2 L620.1,830.5 L622.2,829.8 L624.4,829.1 L626.5,828.4 L628.7,827.8 L630.8,827.1 L633.0,826.5 L635.1,825.8 L637.3,825.1 L639.4,824.5 L641.6,823.8 L643.8,823.2 L645.9,822.5 L648.1,821.9 L650.2,821.2 L652.4,820.6 L654.5,820.1 L656.7,819.6 L658.8,819.2 L661.0,818.9 L663.1,818.6 L665.3,818.4 L667.4,818.3 L669.6,818.2 L671.8,818.2 L673.9,818.3 L676.1,818.3 L678.2,818.4 L680.4,818.5 L682.5,818.8 L684.7,819.0 L686.8,819.4 L689.0,819.8 L691.1,820.2 L693.3,820.7 L695.4,821.1 L697.6,821.4 L699.8,821.7 L701.9,821.9 L704.1,822.0 L706.2,822.1 L708.4,822.1 L710.5,822.1 L712.7,822.1 L714.8,822.0 L717.0,821.9 L719.1,821.6 L721.3,821.4 L723.4,821.0 L725.6,820.6 L727.8,820.2 L729.9,819.7 L732.1,819.1 L734.2,818.5 L736.4,817.8 L738.5,817.2 L740.7,816.5 L742.8,815.8 L745.0,815.2 L747.1,814.5 L749.3,813.9 L751.4,813.2 L753.6,812.7 L755.8,812.2 L757.9,811.7 L760.1,811.4 L762.2,811.1 L764.4,810.9 L766.5,810.7 L768.7,810.6 L770.4,810.6" stroke="#0000ff" stroke-width="2.6" fill="none" stroke-linejoin="round" stroke-linecap="butt"/>
</g>
<text x="81.6" y="1007.8" font-size="24" text-anchor="middle">0</text>
<text x="195.4" y="1007.8" font-size="24" text-anchor="middle">1</text>
<text x="309.1" y="1007.8" font-size="24" text-anchor="middle">2</text>
<text x="422.9" y="1007.8" font-size="24" text-anchor="middle">3</text>
<text x="536.7" y="1007.8" font-size="24" text-anchor="middle">4</text>
<text x="650.5" y="1007.8" font-size="24" text-anchor="middle">5</text>
<text x="764.2" y="1007.8" font-size="24" text-anchor="middle">6</text>
<text x="878.0" y="1007.8" font-size="24" text-anchor="middle">7</text>
<text x="71.8" y="984.2" font-size="24" text-anchor="end">16</text>
<text x="71.8" y="914.7" font-size="24" text-anchor="end">18</text>
<text x="71.8" y="845.2" font-size="24" text-anchor="end">20</text>
<text x="34.6" y="892.6" font-size="27.5" text-anchor="middle" transform="rotate(-90 34.6 892.6)">Pos</text>
<path d="M659.2,863.9 L731.4,863.9" stroke="#ff0000" stroke-width="2.5" fill="none" stroke-linejoin="round" stroke-linecap="butt"/>
<path d="M659.2,890.1 L731.4,890.1" stroke="#0000ff" stroke-width="2.5" fill="none" stroke-linejoin="round" stroke-linecap="butt"/>
<text x="738.1" y="871.3" font-size="21.8" text-anchor="start">TOPP-RQA</text>
<text x="738.1" y="897.5" font-size="21.8" text-anchor="start">TOPP-RA</text>
<clipPath id="c4"><rect x="80.1" y="1039.3" width="799.5" height="169.0"/></clipPath>
<path d="M81.6,1206.8 v-8 M81.6,1040.8 v8" stroke="#262626" stroke-width="1.4" fill="none"/>
<path d="M195.4,1206.8 v-8 M195.4,1040.8 v8" stroke="#262626" stroke-width="1.4" fill="none"/>
<path d="M309.1,1206.8 v-8 M309.1,1040.8 v8" stroke="#262626" stroke-width="1.4" fill="none"/>
<path d="M422.9,1206.8 v-8 M422.9,1040.8 v8" stroke="#262626" stroke-width="1.4" fill="none"/>
<path d="M536.7,1206.8 v-8 M536.7,1040.8 v8" stroke="#262626" stroke-width="1.4" fill="none"/>
<path d="M650.5,1206.8 v-8 M650.5,1040.8 v8" stroke="#262626" stroke-width="1.4" fill="none"/>
<path d="M764.2,1206.8 v-8 M764.2,1040.8 v8" stroke="#262626" stroke-width="1.4" fill="none"/>
<path d="M878.0,1206.8 v-8 M878.0,1040.8 v8" stroke="#262626" stroke-width="1.4" fill="none"/>
<path d="M81.6,1206.8 h8 M878.1,1206.8 h-8" stroke="#262626" stroke-width="1.4" fill="none"/>
<path d="M81.6,1131.5 h8 M878.1,1131.5 h-8" stroke="#262626" stroke-width="1.4" fill="none"/>
<path d="M81.6,1056.2 h8 M878.1,1056.2 h-8" stroke="#262626" stroke-width="1.4" fill="none"/>
<line x1="81.6" y1="1040.25" x2="81.6" y2="1207.45" stroke="#262626" stroke-width="1.5"/>
<line x1="80.85" y1="1206.8" x2="878.7" y2="1206.8" stroke="#262626" stroke-width="1.3"/>
<line x1="80.85" y1="1040.8" x2="878.7" y2="1040.8" stroke="#262626" stroke-width="1.1"/>
<line x1="878.1" y1="1040.25" x2="878.1" y2="1207.45" stroke="#262626" stroke-width="1.2"/>
<g clip-path="url(#c4)">
<path d="M81.6,1131.5 L83.9,1131.5 L106.8,1056.2 L611.0,1056.2 L632.2,1131.5" stroke="#ff0000" stroke-width="2.6" fill="none" stroke-linejoin="round" stroke-linecap="butt"/>
<path d="M81.6,1131.5 L83.9,1131.5 L106.8,1056.2 L119.9,1056.2 L143.0,1133.6 L146.3,1132.3 L149.3,1149.3 L163.1,1190.7 L181.0,1130.0 L184.7,1131.9 L188.3,1109.5 L190.5,1107.3 L205.8,1056.2 L417.2,1056.2 L431.9,1056.2 L440.3,1054.5 L450.4,1055.5 L461.5,1056.5 L472.2,1048.5 L480.6,1049.5 L492.4,1053.5 L503.1,1056.2 L513.2,1042.8 L520.9,1044.8 L531.0,1052.2 L540.4,1056.2 L549.5,1041.1 L557.9,1050.8 L565.6,1056.2 L574.0,1049.5 L582.4,1056.2 L589.1,1043.1 L595.8,1047.5 L602.6,1056.2 L608.9,1046.1 L614.0,1055.5 L620.0,1048.5 L625.7,1056.2 L648.6,1056.2 L649.0,1056.2 L672.4,1137.0 L676.0,1132.5 L679.3,1151.5 L691.4,1186.2 L708.6,1129.7 L711.9,1131.9 L714.9,1114.6 L716.6,1111.8 L734.0,1056.2 L749.6,1056.2 L770.4,1131.5" stroke="#0000ff" stroke-width="2.6" fill="none" stroke-linejoin="round" stroke-linecap="butt"/>
</g>
<text x="81.6" y="1238.6" font-size="24" text-anchor="middle">0</text>
<text x="195.4" y="1238.6" font-size="24" text-anchor="middle">1</text>
<text x="309.1" y="1238.6" font-size="24" text-anchor="middle">2</text>
<text x="422.9" y="1238.6" font-size="24" text-anchor="middle">3</text>
<text x="536.7" y="1238.6" font-size="24" text-anchor="middle">4</text>
<text x="650.5" y="1238.6" font-size="24" text-anchor="middle">5</text>
<text x="764.2" y="1238.6" font-size="24" text-anchor="middle">6</text>
<text x="878.0" y="1238.6" font-size="24" text-anchor="middle">7</text>
<text x="71.8" y="1215.0" font-size="24" text-anchor="end">-1</text>
<text x="71.8" y="1139.7" font-size="24" text-anchor="end">0</text>
<text x="71.8" y="1064.5" font-size="24" text-anchor="end">1</text>
<text x="37.0" y="1123.7" font-size="27.5" text-anchor="middle" transform="rotate(-90 37.0 1123.7)">Vel</text>
<clipPath id="c5"><rect x="80.1" y="1270.7" width="799.5" height="168.89999999999986"/></clipPath>
<path d="M81.6,1438.1 v-8 M81.6,1272.2 v8" stroke="#262626" stroke-width="1.4" fill="none"/>
<path d="M195.4,1438.1 v-8 M195.4,1272.2 v8" stroke="#262626" stroke-width="1.4" fill="none"/>
<path d="M309.1,1438.1 v-8 M309.1,1272.2 v8" stroke="#262626" stroke-width="1.4" fill="none"/>
<path d="M422.9,1438.1 v-8 M422.9,1272.2 v8" stroke="#262626" stroke-width="1.4" fill="none"/>
<path d="M536.7,1438.1 v-8 M536.7,1272.2 v8" stroke="#262626" stroke-width="1.4" fill="none"/>
<path d="M650.5,1438.1 v-8 M650.5,1272.2 v8" stroke="#262626" stroke-width="1.4" fill="none"/>
<path d="M764.2,1438.1 v-8 M764.2,1272.2 v8" stroke="#262626" stroke-width="1.4" fill="none"/>
<path d="M878.0,1438.1 v-8 M878.0,1272.2 v8" stroke="#262626" stroke-width="1.4" fill="none"/>
<path d="M81.6,1438.0 h8 M878.1,1438.0 h-8" stroke="#262626" stroke-width="1.4" fill="none"/>
<path d="M81.6,1355.1 h8 M878.1,1355.1 h-8" stroke="#262626" stroke-width="1.4" fill="none"/>
<path d="M81.6,1272.1 h8 M878.1,1272.1 h-8" stroke="#262626" stroke-width="1.4" fill="none"/>
<line x1="81.6" y1="1271.2" x2="81.6" y2="1438.6499999999999" stroke="#262626" stroke-width="1.3"/>
<line x1="80.94999999999999" y1="1438.1" x2="878.7" y2="1438.1" stroke="#262626" stroke-width="1.1"/>
<line x1="80.94999999999999" y1="1272.2" x2="878.7" y2="1272.2" stroke="#262626" stroke-width="2.0"/>
<line x1="878.1" y1="1271.2" x2="878.1" y2="1438.6499999999999" stroke="#262626" stroke-width="1.2"/>
<g clip-path="url(#c5)">
<path d="M81.6,1355.1 L83.2,1272.2 L105.0,1272.2 L107.6,1346.0 L109.6,1350.2 L111.6,1351.4 L113.6,1351.8 L115.6,1352.2 L117.5,1352.4 L119.5,1352.4 L121.5,1352.2 L123.5,1351.8 L125.5,1351.1 L127.5,1350.0 L129.5,1348.1 L131.5,1346.5 L133.5,1348.4 L135.4,1354.6 L137.4,1364.3 L139.4,1372.4 L141.4,1370.3 L143.4,1360.1 L145.4,1350.1 L147.4,1346.0 L149.4,1345.0 L151.4,1345.2 L153.3,1346.0 L155.3,1346.9 L157.3,1347.8 L159.3,1348.7 L161.3,1349.5 L163.3,1350.1 L165.3,1350.6 L167.3,1351.0 L169.3,1351.4 L171.3,1351.7 L173.2,1352.0 L175.2,1352.3 L177.2,1352.6 L179.2,1352.9 L181.2,1353.1 L183.2,1353.3 L185.2,1353.5 L187.2,1353.7 L189.2,1353.9 L191.1,1354.1 L193.1,1354.2 L195.1,1354.3 L197.1,1354.4 L199.1,1354.4 L201.1,1354.5 L203.1,1354.6 L205.1,1354.6 L207.1,1354.7 L209.0,1354.7 L211.0,1354.8 L213.0,1354.8 L215.0,1354.9 L217.0,1354.9 L219.0,1354.9 L221.0,1354.9 L223.0,1354.9 L225.0,1354.9 L226.9,1354.9 L228.9,1354.9 L230.9,1355.0 L232.9,1355.0 L234.9,1355.0 L236.9,1355.0 L238.9,1355.0 L240.9,1355.0 L242.9,1355.0 L244.8,1355.0 L246.8,1355.0 L248.8,1355.0 L250.8,1355.0 L252.8,1355.0 L254.8,1355.0 L256.8,1355.0 L258.8,1355.0 L260.8,1355.1 L262.8,1355.1 L264.7,1355.1 L266.7,1355.1 L268.7,1355.1 L270.7,1355.1 L272.7,1355.1 L274.7,1355.1 L276.7,1355.1 L278.7,1355.1 L280.7,1355.1 L282.6,1355.1 L284.6,1355.1 L286.6,1355.1 L288.6,1355.1 L290.6,1355.1 L292.6,1355.1 L294.6,1355.1 L296.6,1355.1 L298.6,1355.1 L300.5,1355.1 L302.5,1355.1 L304.5,1355.1 L306.5,1355.1 L308.5,1355.1 L310.5,1355.1 L312.5,1355.1 L314.5,1355.1 L316.5,1355.1 L318.4,1355.1 L320.4,1355.1 L322.4,1355.1 L324.4,1355.1 L326.4,1355.1 L328.4,1355.1 L330.4,1355.1 L332.4,1355.1 L334.4,1355.1 L336.3,1355.1 L338.3,1355.1 L340.3,1355.1 L342.3,1355.1 L344.3,1355.1 L346.3,1355.1 L348.3,1355.1 L350.3,1355.1 L352.3,1355.1 L354.3,1355.1 L356.2,1355.1 L358.2,1355.1 L360.2,1355.1 L362.2,1355.1 L364.2,1355.1 L366.2,1355.1 L368.2,1355.1 L370.2,1355.1 L372.2,1355.1 L374.1,1355.1 L376.1,1355.1 L378.1,1355.1 L380.1,1355.0 L382.1,1355.0 L384.1,1355.0 L386.1,1355.0 L388.1,1355.0 L390.1,1355.0 L392.0,1355.0 L394.0,1355.0 L396.0,1355.0 L398.0,1355.0 L400.0,1355.0 L402.0,1354.9 L404.0,1354.9 L406.0,1354.9 L408.0,1354.9 L409.9,1354.9 L411.9,1354.9 L413.9,1354.9 L415.9,1354.9 L417.9,1354.9 L419.9,1354.9 L421.9,1354.9 L423.9,1354.8 L425.9,1354.8 L427.9,1354.8 L429.8,1354.8 L431.8,1354.8 L433.8,1354.8 L435.8,1354.8 L437.8,1354.8 L439.8,1354.8 L441.8,1354.8 L443.8,1354.8 L445.8,1354.8 L447.8,1354.7 L449.7,1354.7 L451.7,1354.7 L453.7,1354.7 L455.7,1354.7 L457.7,1354.7 L459.7,1354.7 L461.7,1354.6 L463.7,1354.6 L465.7,1354.6 L467.7,1354.6 L469.6,1354.6 L471.6,1354.5 L473.6,1354.5 L475.6,1354.5 L477.6,1354.5 L479.6,1354.4 L481.6,1354.4 L483.6,1354.4 L485.6,1354.4 L487.6,1354.3 L489.5,1354.3 L491.5,1354.2 L493.5,1354.2 L495.5,1354.2 L497.5,1354.1 L499.5,1354.1 L501.5,1354.0 L503.5,1354.0 L505.5,1353.9 L507.5,1353.8 L509.4,1353.7 L511.4,1353.6 L513.4,1353.5 L515.4,1353.4 L517.4,1353.3 L519.4,1353.2 L521.4,1353.0 L523.4,1352.9 L525.4,1352.7 L527.4,1352.5 L529.3,1352.3 L531.3,1352.1 L533.3,1351.8 L535.3,1351.6 L537.3,1351.3 L539.3,1351.0 L541.3,1350.7 L543.3,1350.3 L545.3,1349.9 L547.2,1349.5 L549.2,1348.9 L551.2,1348.2 L553.2,1347.4 L555.2,1346.6 L557.2,1346.1 L559.2,1345.9 L561.2,1345.7 L563.2,1345.7 L565.2,1349.0 L567.1,1354.8 L569.1,1360.9 L571.1,1366.0 L573.1,1369.1 L575.1,1361.6 L577.1,1354.6 L579.1,1350.9 L581.1,1348.8 L583.1,1348.4 L585.1,1349.3 L587.0,1350.4 L589.0,1350.8 L591.0,1351.1 L593.0,1351.3 L595.0,1351.4 L597.0,1351.4 L599.0,1351.4 L601.0,1351.4 L603.0,1351.1 L605.0,1350.3 L606.9,1349.2 L608.9,1347.3 L611.6,1438.0 L631.8,1438.0 L632.8,1355.7" stroke="#ff0000" stroke-width="2.4" fill="none" stroke-linejoin="round" stroke-linecap="butt"/>
<path d="M81.6,1355.1 L83.2,1272.2 L104.2,1272.2 L106.6,1330.0 L107.2,1343.0 L108.2,1347.6 L112.0,1348.6 L116.3,1349.0 L117.1,1347.9 L118.0,1357.4 L119.7,1379.8 L120.8,1413.4 L121.4,1433.5 L122.0,1438.1 L160.0,1438.1 L161.7,1433.5 L162.8,1379.8 L163.3,1335.0 L164.5,1272.2 L200.8,1272.2 L203.5,1278.1 L205.9,1340.0 L207.9,1343.4 L209.9,1345.8 L211.9,1347.6 L213.9,1348.8 L215.8,1349.7 L217.8,1350.3 L219.8,1350.9 L221.8,1351.4 L223.8,1351.8 L225.8,1352.1 L227.8,1352.4 L229.8,1352.7 L231.8,1352.9 L233.8,1353.1 L235.7,1353.3 L237.7,1353.5 L239.7,1353.7 L241.7,1353.8 L243.7,1353.9 L245.7,1354.0 L247.7,1354.1 L249.7,1354.2 L251.7,1354.2 L253.7,1354.3 L255.6,1354.4 L257.6,1354.4 L259.6,1354.5 L261.6,1354.5 L263.6,1354.6 L265.6,1354.6 L267.6,1354.6 L269.6,1354.7 L271.6,1354.7 L273.5,1354.7 L275.5,1354.8 L277.5,1354.8 L279.5,1354.8 L281.5,1354.9 L283.5,1354.9 L285.5,1354.9 L287.5,1354.9 L289.5,1354.9 L291.5,1355.0 L293.4,1355.0 L295.4,1355.0 L297.4,1355.0 L299.4,1355.0 L301.4,1355.0 L303.4,1355.0 L305.4,1355.0 L307.4,1355.0 L309.4,1355.0 L311.4,1355.0 L313.3,1355.0 L315.3,1355.0 L317.3,1355.0 L319.3,1355.0 L321.3,1355.0 L323.3,1355.0 L325.3,1355.0 L327.3,1355.0 L329.3,1355.1 L331.2,1355.1 L333.2,1355.1 L335.2,1355.1 L337.2,1355.1 L339.2,1355.1 L341.2,1355.1 L343.2,1355.1 L345.2,1355.1 L347.2,1355.1 L349.2,1355.1 L351.1,1355.1 L353.1,1355.1 L355.1,1355.1 L357.1,1355.1 L359.1,1355.1 L361.1,1355.1 L363.1,1355.1 L365.1,1355.1 L367.1,1355.1 L369.0,1355.1 L371.0,1355.1 L373.0,1355.1 L375.0,1355.1 L377.0,1355.1 L379.0,1355.1 L381.0,1355.1 L383.0,1355.1 L385.0,1355.1 L387.0,1355.1 L388.9,1355.1 L390.9,1355.1 L392.9,1355.1 L394.9,1355.1 L396.9,1355.1 L398.9,1355.1 L400.9,1355.1 L402.9,1355.1 L404.9,1355.1 L406.9,1355.1 L408.8,1355.1 L410.8,1355.1 L412.8,1355.1 L414.8,1355.1 L416.8,1355.1 L416.8,1355.1 L427.9,1351.4 L439.6,1356.7 L450.4,1356.7 L461.5,1335.9 L472.2,1357.4 L483.0,1365.8 L492.4,1360.1 L503.1,1317.8 L512.5,1360.8 L521.6,1376.9 L530.3,1366.5 L540.4,1306.0 L549.5,1387.6 L557.9,1370.8 L565.6,1332.2 L574.0,1376.9 L582.1,1303.0 L589.1,1374.2 L595.8,1388.7 L602.2,1308.0 L608.9,1400.4 L614.3,1311.1 L620.0,1396.0 L625.7,1350.7 L624.6,1351.1 L626.5,1350.6 L628.4,1350.0 L630.3,1349.4 L632.1,1348.8 L634.0,1348.2 L635.9,1347.5 L637.8,1346.6 L639.7,1345.6 L641.6,1344.2 L643.5,1342.5 L645.4,1340.4 L646.6,1382.3 L648.1,1415.9 L649.3,1428.1 L651.5,1437.9 L689.7,1437.9 L692.8,1272.2 L730.7,1272.2 L732.2,1315.0 L733.4,1344.1 L735.2,1348.4 L737.0,1349.1 L738.8,1349.4 L740.6,1349.6 L742.4,1349.2 L744.2,1348.5 L746.0,1347.1 L747.8,1345.6 L748.7,1382.3 L749.9,1425.1 L751.5,1437.9 L769.8,1437.9 L770.7,1355.4" stroke="#0000ff" stroke-width="2.7" fill="none" stroke-linejoin="round" stroke-linecap="butt"/>
</g>
<text x="81.6" y="1470.8" font-size="24" text-anchor="middle">0</text>
<text x="195.4" y="1470.8" font-size="24" text-anchor="middle">1</text>
<text x="309.1" y="1470.8" font-size="24" text-anchor="middle">2</text>
<text x="422.9" y="1470.8" font-size="24" text-anchor="middle">3</text>
<text x="536.7" y="1470.8" font-size="24" text-anchor="middle">4</text>
<text x="650.5" y="1470.8" font-size="24" text-anchor="middle">5</text>
<text x="764.2" y="1470.8" font-size="24" text-anchor="middle">6</text>
<text x="878.0" y="1470.8" font-size="24" text-anchor="middle">7</text>
<text x="71.8" y="1446.2" font-size="24" text-anchor="end">-5</text>
<text x="71.8" y="1363.3" font-size="24" text-anchor="end">0</text>
<text x="71.8" y="1280.3" font-size="24" text-anchor="end">5</text>
<text x="37.0" y="1354.5" font-size="27.5" text-anchor="middle" transform="rotate(-90 37.0 1354.5)">Acc</text>
<text x="479.0" y="1503.9" font-size="27" text-anchor="middle">time s</text>
<text x="476.3" y="1557.0" font-size="37.5" text-anchor="middle">(b)</text>
</svg>
</body></html>
